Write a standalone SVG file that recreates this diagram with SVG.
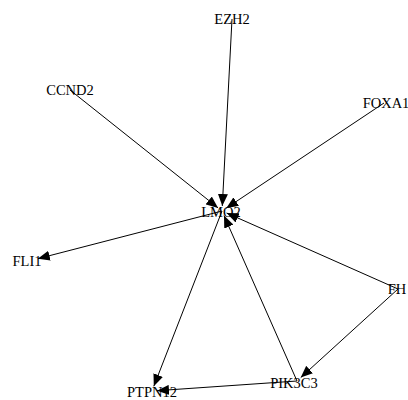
<svg xmlns="http://www.w3.org/2000/svg" width="408" height="400" viewBox="0 0 408 400">
<style>
text{font-family:"Liberation Serif","Times New Roman",serif;font-size:14.5px;fill:#000;text-anchor:middle}
line{stroke:#000;stroke-width:1;marker-end:url(#ah)}
</style>
<defs>
<marker id="ah" viewBox="0 0 12 10" refX="12" refY="5" markerWidth="12" markerHeight="10" markerUnits="userSpaceOnUse" orient="auto">
<path d="M0,0 L12,5 L0,10 z" fill="#000"/>
</marker>
</defs>
<rect width="408" height="400" fill="#fff"/>
<g id="EZH2"><text x="232" y="24">EZH2</text></g>
<g id="CCND2"><text x="70" y="95">CCND2</text></g>
<g id="FOXA1"><text x="386" y="108">FOXA1</text></g>
<g id="LMO2"><text x="221" y="217">LMO2</text></g>
<g id="FLI1"><text x="27" y="266">FLI1</text></g>
<g id="FH"><text x="397" y="294">FH</text></g>
<g id="PIK3C3"><text x="294" y="388">PIK3C3</text></g>
<g id="PTPN12"><text x="152" y="397">PTPN12</text></g>
<g id="connectors">
<line x1="232" y1="19" x2="222.3" y2="206"/>
<line x1="70" y1="90" x2="218.1" y2="207.9"/>
<line x1="384" y1="103" x2="226.2" y2="208.2"/>
<line x1="222" y1="211" x2="37.8" y2="258.7"/>
<line x1="222" y1="211" x2="153.8" y2="386.3"/>
<line x1="297" y1="381" x2="224" y2="215.6"/>
<line x1="398" y1="289" x2="226.6" y2="213"/>
<line x1="398" y1="289" x2="300.7" y2="377.6"/>
<line x1="297" y1="381" x2="157" y2="390.7"/>
</g>
</svg>
